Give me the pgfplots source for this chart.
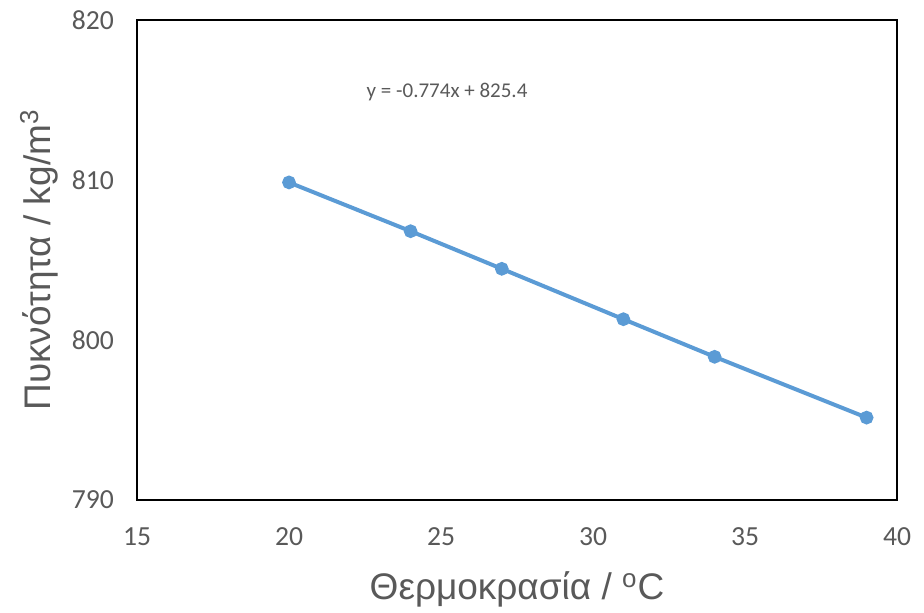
\documentclass[border=0pt]{standalone}
\usepackage{fontspec}
\setmainfont{Liberation Sans}
\newfontfamily\calibri{Carlito}
\usepackage{pgfplots}
\pgfplotsset{compat=1.18}
\definecolor{txtgray}{HTML}{595959}
\definecolor{serblue}{HTML}{5B9BD5}
\begin{document}
\begin{tikzpicture}
\useasboundingbox (-68.5pt,-56pt) rectangle (393.5pt,250pt);
\begin{axis}[
  at={(0,0)}, anchor=south west,
  scale only axis, width=380pt, height=240pt,
  xmin=15, xmax=40, ymin=790, ymax=820,
  xtick={15,20,...,40}, ytick={790,800,810,820},
  major tick length=0pt,
  axis line style={black, line width=1pt},
  /pgf/number format/assume math mode=true,
  ticklabel style={font=\calibri\fontsize{13.8}{16}\selectfont, text=txtgray},
  xticklabel style={yshift=-10.5pt},
  yticklabel style={xshift=-8pt},
  xlabel={Θερμοκρασία / \textsuperscript{o}C},
  ylabel={Πυκνότητα / kg/m\textsuperscript{3}},
  label style={font=\fontsize{18.5}{22}\selectfont, text=txtgray},
  xlabel style={yshift=-6pt},
  ylabel style={yshift=0pt},
  clip=false,
]
\addplot[serblue, line width=2pt, mark=*, mark size=2.4pt, mark options={fill=serblue, draw=serblue}]
  coordinates {(20,809.85) (24,806.8) (27,804.45) (31,801.3) (34,798.95) (39,795.15)};
\node[font=\calibri\fontsize{10.5}{12}\selectfont, text=txtgray] at (axis cs:25.2,815.5) {y = -0.774x + 825.4};
\end{axis}
\end{tikzpicture}
\end{document}
